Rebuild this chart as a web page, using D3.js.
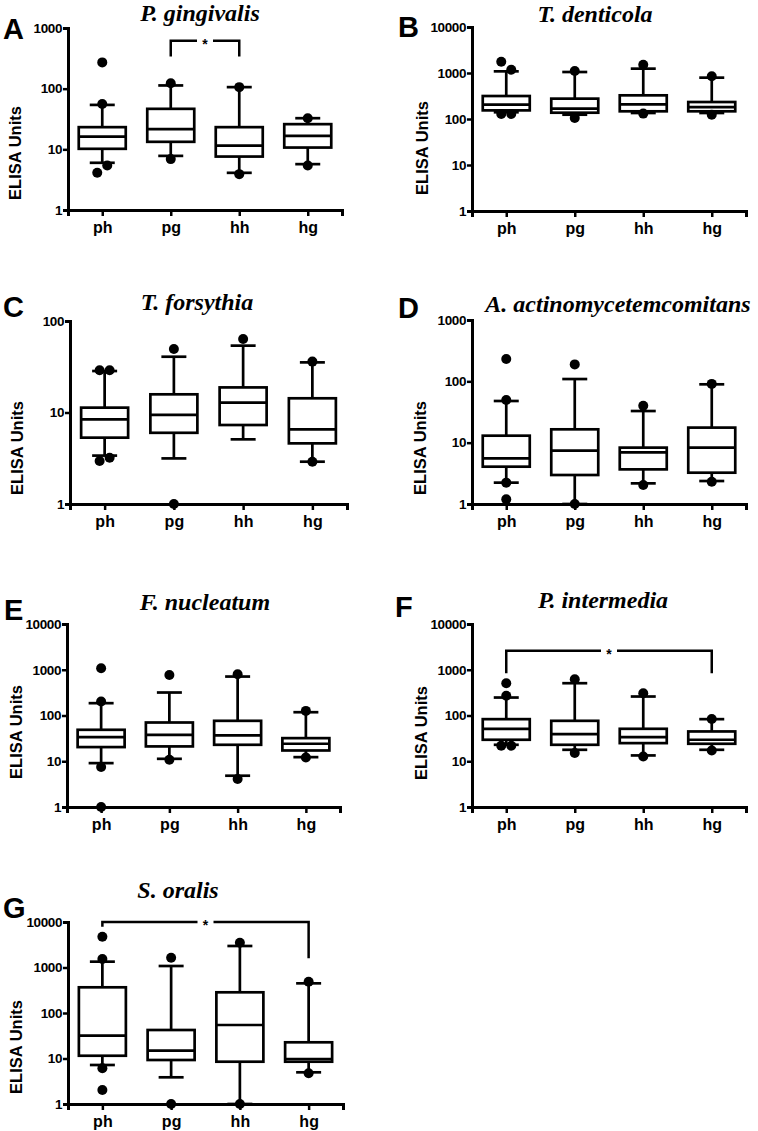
<!DOCTYPE html>
<html>
<head>
<meta charset="utf-8">
<script src="https://cdn.jsdelivr.net/npm/d3@7"></script>
<style>
  html, body { margin: 0; padding: 0; background: #fff; }
  svg { display: block; }
</style>
</head>
<body>
<svg id="chart" width="758" height="1131"></svg>
<script>
// ---------- DATA ----------
const categories = ["ph", "pg", "hh", "hg"];
const panelLetters = ["A", "B", "C", "D", "E", "F", "G"];
const speciesTitles = ["P. gingivalis", "T. denticola", "T. forsythia", "A. actinomycetemcomitans",
                       "F. nucleatum", "P. intermedia", "S. oralis"];
const yAxisTitle = "ELISA Units";
const yMaxValues = [1000, 10000, 100, 1000, 10000, 10000, 10000];
const yTickValues = [1, 10, 100, 1000, 10000];

// A: P. gingivalis
const A_low = [6.0, 7.8, 4.1, 5.7];
const A_q1 = [10.2, 13.3, 7.6, 10.7];
const A_median = [16.2, 21.5, 11.5, 16.7];
const A_q3 = [23.2, 46.5, 23.2, 26];
const A_high = [54, 113, 106, 32.6];
const A_outliers = [[271, 56, 4.1, 5.4], [123, 6.9], [106, 3.9], [32.6, 5.4]];
const A_signif = [["pg", "hh", 617, 340, 340]];

// B: T. denticola
const B_low = [140, 124, 135, 135];
const B_q1 = [154, 137, 147, 147];
const B_median = [205, 168, 208, 182];
const B_q3 = [316, 277, 327, 234];
const B_high = [1087, 1051, 1243, 792];
const B_outliers = [[1750, 1180, 128, 128], [1105, 105], [1517, 131], [847, 124]];
const B_signif = [];

// C: T. forsythia
const C_low = [3.38, 3.15, 5.09, 2.9];
const C_q1 = [5.31, 6.0, 7.3, 4.6];
const C_median = [8.42, 9.4, 12.8, 6.55];
const C_q3 = [11.3, 15.8, 18.8, 14.3];
const C_high = [28.4, 40.7, 53.8, 35.3];
const C_outliers = [[29, 29, 2.95, 3.2], [49.4, 1.0], [63.6], [36, 2.9]];
const C_signif = [];

// D: A. actinomycetemcomitans
const D_low = [2.23, 1.0, 2.17, 2.37];
const D_q1 = [4.06, 2.97, 3.67, 3.24];
const D_median = [5.55, 7.4, 6.95, 8.28];
const D_q3 = [13, 16.5, 8.3, 17.6];
const D_high = [47.8, 109, 32.8, 89.4];
const D_outliers = [[231, 49.6, 2.23, 1.19], [189, 1.0], [40, 2.04], [90.8, 2.31]];
const D_signif = [];

// E: F. nucleatum
const E_low = [9.1, 11.3, 4.83, 12.3];
const E_q1 = [20.4, 21.1, 22.9, 17.2];
const E_median = [33.7, 37.9, 36.6, 24.1];
const E_q3 = [48.7, 70.3, 76.5, 32];
const E_high = [186, 318, 710, 118];
const E_outliers = [[1078, 202, 7.46, 1.0], [771, 10.8], [798, 4.08], [126, 12.1]];
const E_signif = [];

// F: P. intermedia
const F_low = [22.9, 17.8, 13.4, 17.8];
const F_q1 = [29.5, 22.9, 24.9, 24.1];
const F_median = [51.2, 39.2, 33.7, 29.5];
const F_q3 = [83.2, 76.5, 51.2, 44.8];
const F_high = [247, 508, 260, 83.2];
const F_outliers = [[508, 269, 21.8, 21.8], [620, 15.1], [307, 12.7], [84, 17.2]];
const F_signif = [["ph", "hg", 2618, 839, 839]];

// G: S. oralis
const G_low = [7.2, 3.86, 1.0, 4.97];
const G_q1 = [11.5, 9.27, 8.5, 8.5];
const G_median = [31.8, 14.9, 54.5, 9.75];
const G_q3 = [367, 42.3, 285, 22.7];
const G_high = [1343, 1079, 2970, 449];
const G_outliers = [[4760, 1537, 6.08, 2.03], [1644, 1.0], [3513, 1.0], [488, 4.72]];
const G_signif = [["ph", "hg", 10000, 7890, 1589]];

const panelStats = [
  [A_low, A_q1, A_median, A_q3, A_high, A_outliers, A_signif],
  [B_low, B_q1, B_median, B_q3, B_high, B_outliers, B_signif],
  [C_low, C_q1, C_median, C_q3, C_high, C_outliers, C_signif],
  [D_low, D_q1, D_median, D_q3, D_high, D_outliers, D_signif],
  [E_low, E_q1, E_median, E_q3, E_high, E_outliers, E_signif],
  [F_low, F_q1, F_median, F_q3, F_high, F_outliers, F_signif],
  [G_low, G_q1, G_median, G_q3, G_high, G_outliers, G_signif]
];

// ---------- LAYOUT ----------
const layout = [
  {x0: 68,  x1: 342, yTop: 28,  yBot: 210, tx: 200, ty: 21,  lx: 3,   ly: 39,  ax: 15,  ay: 153},
  {x0: 472, x1: 746, yTop: 27,  yBot: 211, tx: 595, ty: 22,  lx: 398, ly: 37,  ax: 422, ay: 148},
  {x0: 70,  x1: 347, yTop: 321, yBot: 504, tx: 197, ty: 310, lx: 3,   ly: 317, ax: 17,  ay: 448},
  {x0: 472, x1: 746, yTop: 320, yBot: 504, tx: 618, ty: 312, lx: 398, ly: 318, ax: 420, ay: 448},
  {x0: 67,  x1: 340, yTop: 624, yBot: 807, tx: 205, ty: 610, lx: 4,   ly: 620, ax: 16,  ay: 732},
  {x0: 472, x1: 746, yTop: 624, yBot: 807, tx: 603, ty: 608, lx: 395, ly: 617, ax: 421, ay: 733},
  {x0: 68,  x1: 343, yTop: 922, yBot: 1104, tx: 178, ty: 898, lx: 3,  ly: 918, ax: 16,  ay: 1047}
];

const boxW = 47, capW = 25, dotR = 5, boxStroke = 2.7, axisStroke = 3;
const sans = "Arial, 'Liberation Sans', Helvetica, sans-serif";
const serif = "'Times New Roman', 'Liberation Serif', Times, serif";

const svg = d3.select("#chart");

panelStats.forEach((st, i) => {
  const L = layout[i];
  const [low, q1, med, q3, high, outs, signif] = st;
  const g = svg.append("g");

  const x = d3.scalePoint().domain(categories).range([L.x0, L.x1]).padding(0.5);
  const y = d3.scaleLog().domain([1, yMaxValues[i]]).range([L.yBot, L.yTop]);

  // Title and letter
  g.append("text").attr("x", L.tx).attr("y", L.ty).attr("text-anchor", "middle")
    .attr("font-family", serif).attr("font-style", "italic").attr("font-weight", "bold")
    .attr("font-size", 24).text(speciesTitles[i]);
  g.append("text").attr("x", L.lx).attr("y", L.ly)
    .attr("font-family", sans).attr("font-weight", "bold").attr("font-size", 29)
    .text(panelLetters[i]);

  // y-axis title
  g.append("text").attr("transform", `translate(${L.ax + 6},${L.ay}) rotate(-90)`)
    .attr("text-anchor", "middle").attr("font-family", sans).attr("font-weight", "bold")
    .attr("font-size", 16.5).text(yAxisTitle);

  // Boxes
  categories.forEach((c, j) => {
    const cx = x(c);
    const bg = g.append("g").attr("stroke", "#000").attr("stroke-width", boxStroke).attr("fill", "none");
    bg.append("line").attr("x1", cx).attr("x2", cx).attr("y1", y(low[j])).attr("y2", y(q1[j]));
    bg.append("line").attr("x1", cx).attr("x2", cx).attr("y1", y(q3[j])).attr("y2", y(high[j]));
    bg.append("line").attr("x1", cx - capW / 2).attr("x2", cx + capW / 2).attr("y1", y(low[j])).attr("y2", y(low[j]));
    bg.append("line").attr("x1", cx - capW / 2).attr("x2", cx + capW / 2).attr("y1", y(high[j])).attr("y2", y(high[j]));
    bg.append("rect").attr("x", cx - boxW / 2).attr("width", boxW)
      .attr("y", y(q3[j])).attr("height", y(q1[j]) - y(q3[j])).attr("fill", "#fff");
    bg.append("line").attr("x1", cx - boxW / 2).attr("x2", cx + boxW / 2).attr("y1", y(med[j])).attr("y2", y(med[j]));
  });

  // Axes
  const yAxis = d3.axisLeft(y).tickValues(yTickValues.filter(v => v <= yMaxValues[i]))
    .tickFormat(d3.format("d")).tickSizeOuter(0).tickSize(5).tickPadding(1);
  const ya = g.append("g").attr("transform", `translate(${L.x0},0)`).call(yAxis);
  const xAxis = d3.axisBottom(x).tickSizeOuter(0).tickSize(6).tickPadding(5);
  const xa = g.append("g").attr("transform", `translate(0,${L.yBot})`).call(xAxis);
  [ya, xa].forEach(a => {
    a.select(".domain").attr("stroke", "#000").attr("stroke-width", axisStroke);
    a.selectAll(".tick line").attr("stroke", "#000").attr("stroke-width", 2.5);
    a.selectAll("text").attr("fill", "#000").attr("font-family", sans).attr("font-weight", "bold");
  });
  ya.selectAll("text").attr("font-size", 13.5).attr("letter-spacing", -0.4);
  xa.selectAll("text").attr("font-size", 16).attr("dy", "0.72em");

  // Outliers (overlapping dots spread sideways)
  categories.forEach((c, j) => {
    const cx = x(c);
    const pts = (outs[j] || []).map(v => ({v, py: y(v)}));
    const groups = [];
    pts.forEach(p => {
      const last = groups[groups.length - 1];
      if (last && Math.abs(p.py - last[last.length - 1].py) < dotR * 2) last.push(p);
      else groups.push([p]);
    });
    groups.forEach(gr => {
      gr.forEach((p, k) => {
        const off = (k - (gr.length - 1) / 2) * dotR * 2;
        g.append("circle").attr("cx", cx + off).attr("cy", p.py).attr("r", dotR).attr("fill", "#000");
      });
    });
  });

  // Significance brackets
  signif.forEach(([c1, c2, top, b1, b2]) => {
    const xa1 = x(c1), xa2 = x(c2), yt = y(top);
    const mid = (xa1 + xa2) / 2, gap = 8;
    const path = d3.path();
    path.moveTo(xa1, y(b1)); path.lineTo(xa1, yt); path.lineTo(mid - gap, yt);
    path.moveTo(mid + gap, yt); path.lineTo(xa2, yt); path.lineTo(xa2, y(b2));
    g.append("path").attr("d", path.toString()).attr("fill", "none")
      .attr("stroke", "#000").attr("stroke-width", 2.5);
    g.append("text").attr("x", mid).attr("y", yt + 8).attr("text-anchor", "middle")
      .attr("font-family", sans).attr("font-weight", "bold").attr("font-size", 14).text("*");
  });
});
</script>
</body>
</html>
